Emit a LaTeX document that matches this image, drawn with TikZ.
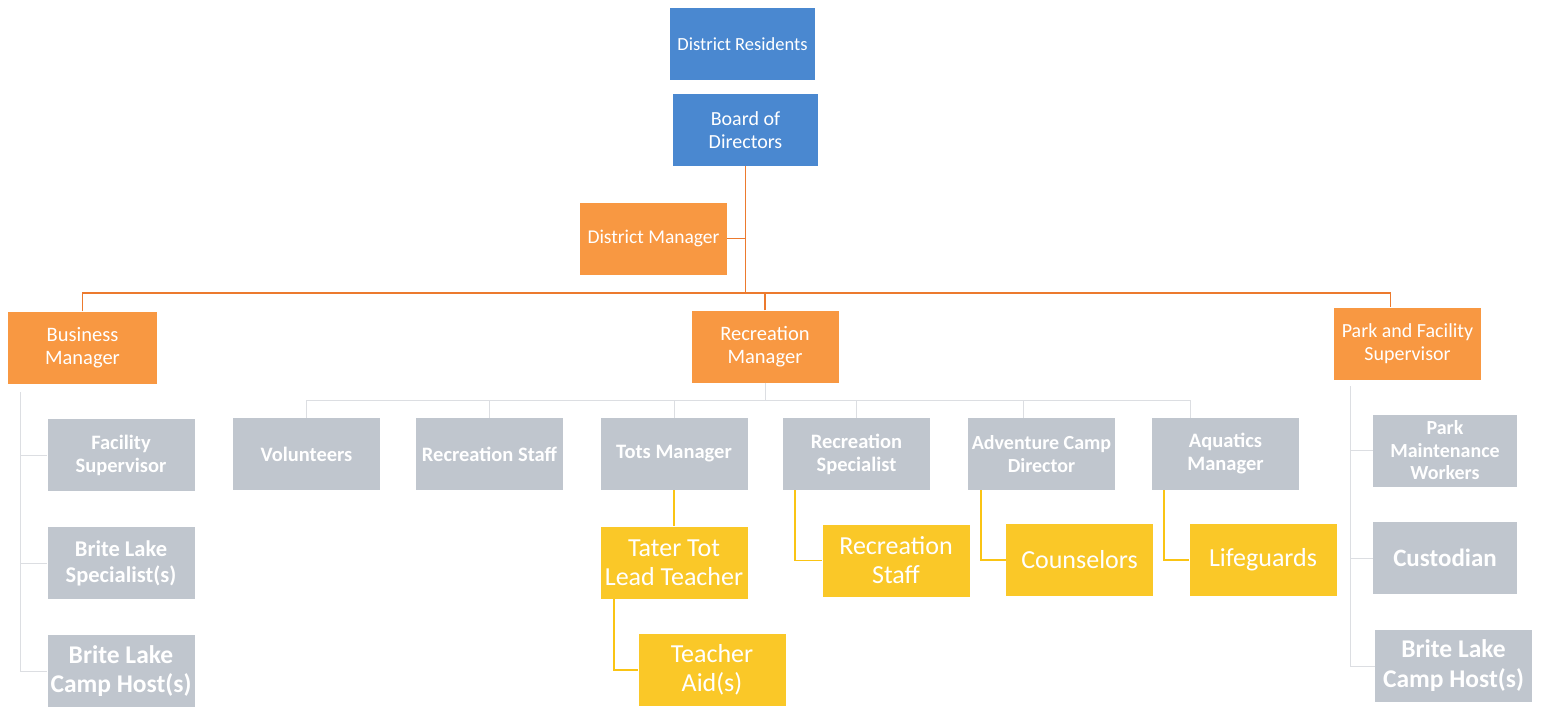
\documentclass[tikz,border=0pt]{standalone}
\usepackage{fontspec}
\setmainfont{Carlito}
\definecolor{cblue}{RGB}{74,136,208}
\definecolor{corange}{RGB}{248,152,66}
\definecolor{cyellow}{RGB}{250,200,40}
\definecolor{cgrey}{RGB}{192,198,206}
\definecolor{lorange}{RGB}{236,122,46}
\definecolor{lgrey}{RGB}{220,222,226}
\definecolor{lyellow}{RGB}{250,196,20}
\begin{document}
\begin{tikzpicture}[x=1pt,y=-1pt,
  box/.style={rectangle, inner sep=1pt, align=center, text=white,
    minimum width=147pt, minimum height=72pt},
  bluebox/.style={box, fill=cblue, font=\fontsize{20}{23}\selectfont},
  orbox/.style={box, fill=corange, font=\fontsize{20.5}{23}\selectfont},
  greybox/.style={box, fill=cgrey, font=\bfseries\fontsize{20.5}{23}\selectfont},
  yelbox/.style={box, fill=cyellow, font=\fontsize{26}{29}\selectfont},
  oline/.style={draw=lorange, line width=1.3pt},
  gline/.style={draw=lgrey, line width=0.8pt},
  yline/.style={draw=lyellow, line width=1.1pt}]
\useasboundingbox (0,0) rectangle (1543,707);
% top
\node[bluebox, minimum width=145pt, font=\fontsize{18.5}{23}\selectfont] (res) at (742.5,44) {District Residents};
\node[bluebox, minimum width=145pt] (board) at (745.5,130) {Board of\\Directors};
\node[orbox, font=\fontsize{19.5}{23}\selectfont] (dm) at (653.5,238.5) {District Manager};
\node[orbox, minimum width=149pt] (bm) at (82.5,347.5) {Business\\Manager};
\node[orbox] (rm) at (765,346.5) {Recreation\\Manager};
\node[orbox, font=\fontsize{20}{23}\selectfont] (pfs) at (1407.5,343.5) {Park and Facility\\Supervisor};
% grey row
\node[greybox] (fs) at (121,455) {Facility\\Supervisor};
\node[greybox, font=\bfseries\fontsize{22.5}{26}\selectfont] (bls) at (121,563) {Brite Lake\\Specialist(s)};
\node[greybox, font=\bfseries\fontsize{25.5}{29}\selectfont] (bch1) at (121,671) {Brite Lake\\Camp Host(s)};
\node[greybox] (vol) at (306.5,454) {Volunteers};
\node[greybox] (rs) at (489.5,454) {Recreation Staff};
\node[greybox] (tots) at (674,454) {Tots Manager};
\node[greybox] (rsp) at (856.5,454) {Recreation\\Specialist};
\node[greybox, font=\bfseries\fontsize{20}{23}\selectfont] (acd) at (1041.5,454) {Adventure Camp\\Director};
\node[greybox] (aqm) at (1225.5,454) {Aquatics\\Manager};
\node[greybox, minimum width=144pt, font=\bfseries\fontsize{20}{22.5}\selectfont] (pmw) at (1445,450.5) {Park\\Maintenance\\Workers};
\node[greybox, minimum width=144pt, font=\bfseries\fontsize{25}{29}\selectfont] (cust) at (1445,558) {Custodian};
\node[greybox, minimum width=157pt, font=\bfseries\fontsize{25.5}{30}\selectfont] (bch2) at (1453.5,666) {Brite Lake\\Camp Host(s)};
% yellow
\node[yelbox] (tater) at (674,562.5) {Tater Tot\\Lead Teacher};
\node[yelbox] (aid) at (712,670) {Teacher\\Aid(s)};
\node[yelbox] (rstaff) at (896,560.5) {Recreation\\Staff};
\node[yelbox] (couns) at (1079.5,560) {Counselors};
\node[yelbox] (life) at (1263,560) {Lifeguards};
% orange connectors
\coordinate (hl) at (745.5,293);
\draw[oline] (board.south) -- (hl);
\draw[oline] (dm.east) -- (dm.east -| board.south);
\draw[oline] (bm.north) -- (bm.north |- hl) -- ([xshift=-17pt]pfs.north |- hl) -- ([xshift=-17pt]pfs.north);
\draw[oline] (rm.north) -- (rm.north |- hl);
% grey connectors (recreation)
\coordinate (gl) at (765,400);
\draw[gline] (rm.south) -- (gl);
\draw[gline] (vol.north |- gl) -- ([xshift=-35pt]aqm.north |- gl);
\foreach \n in {vol,rs,tots,rsp}{\draw[gline] (\n.north |- gl) -- (\n.north);}
\draw[gline] ([xshift=-18pt]acd.north |- gl) -- ([xshift=-18pt]acd.north);
\draw[gline] ([xshift=-35pt]aqm.north |- gl) -- ([xshift=-35pt]aqm.north);
% left column
\coordinate (ll) at (20,392);
\draw[gline] (ll) -- (ll |- bch1) -- (bch1.west);
\draw[gline] (ll |- fs) -- (fs.west);
\draw[gline] (ll |- bls) -- (bls.west);
% right column
\coordinate (rl) at (1350,386);
\draw[gline] (rl) -- (rl |- bch2) -- (bch2.west);
\draw[gline] (rl |- pmw) -- (pmw.west);
\draw[gline] (rl |- cust) -- (cust.west);
% yellow connectors
\draw[yline] (tots.south) -- (tater.north);
\draw[yline] ([xshift=-60pt]tater.south) -- ([xshift=-60pt]tater.south |- aid.west) -- (aid.west);
\draw[yline] ([xshift=-61.5pt]rsp.south) -- ([xshift=-61.5pt]rsp.south |- rstaff.west) -- (rstaff.west);
\draw[yline] ([xshift=-60.5pt]acd.south) -- ([xshift=-60.5pt]acd.south |- couns.west) -- (couns.west);
\draw[yline] ([xshift=-61.5pt]aqm.south) -- ([xshift=-61.5pt]aqm.south |- life.west) -- (life.west);
\end{tikzpicture}
\end{document}
